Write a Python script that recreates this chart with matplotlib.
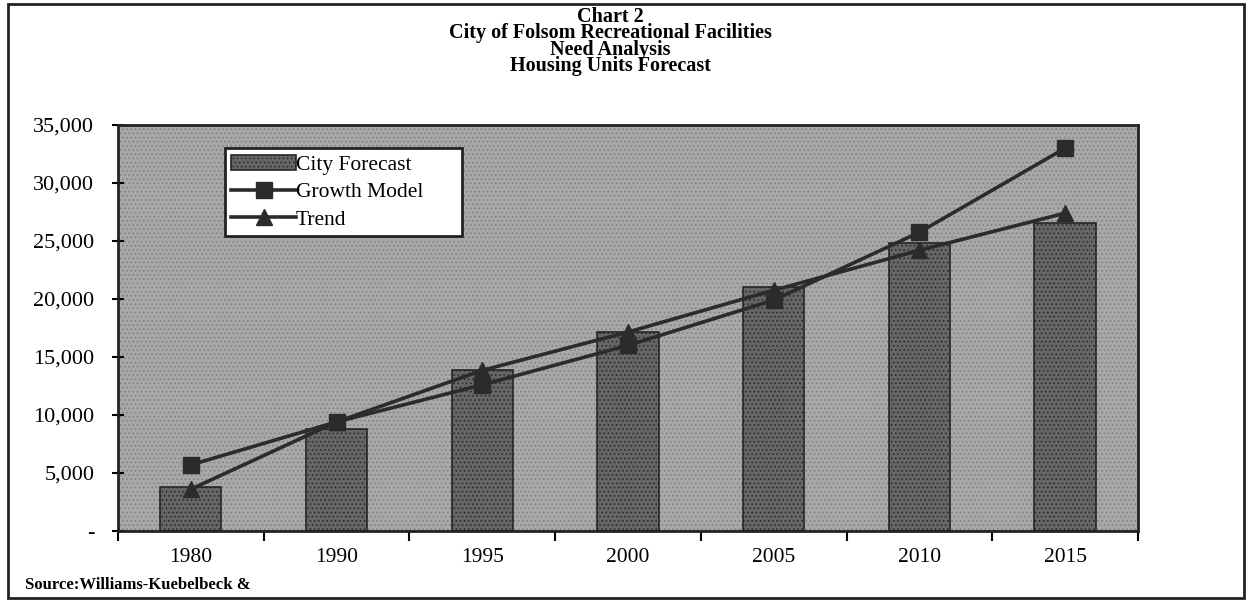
import matplotlib
matplotlib.use("Agg")
import matplotlib.pyplot as plt
from matplotlib.patches import Rectangle
from matplotlib.ticker import FuncFormatter
import numpy as np

years = ["1980", "1990", "1995", "2000", "2005", "2010", "2015"]
city_forecast = [3800, 8800, 13900, 17150, 21000, 24800, 26550]
growth_model = [5700, 9400, 12600, 16000, 19900, 25750, 33000]
trend_model = [3600, 9400, 13850, 17150, 20750, 24200, 27400]

plt.rcParams["font.family"] = ["Liberation Serif", "DejaVu Serif"]
plt.rcParams["hatch.linewidth"] = 0.6

fig = plt.figure(figsize=(12.52, 6), dpi=100)
ax = fig.add_axes([0.0942, 0.115, 0.8147, 0.6767])

# stippled plot area
ax.set_facecolor("#a8a8a8")
ax.add_patch(Rectangle((0, 0), 1, 1, transform=ax.transAxes, facecolor="none",
                       edgecolor="#7e7e7e", hatch="....", lw=0, zorder=0))

x = np.arange(len(years))
ax.bar(x, city_forecast, width=0.42, color="#666666", edgecolor="#262626",
       hatch="....", lw=1.2, zorder=2, label="City Forecast")

ax.plot(x, growth_model, color="#2b2b2b", lw=2.6, marker="s", ms=11,
        zorder=4, label="Growth Model")
ax.plot(x, trend_model, color="#2b2b2b", lw=2.6, marker="^", ms=11,
        zorder=4, label="Trend")

ax.set_xlim(-0.5, len(years) - 0.5)
ax.set_ylim(0, 35000)
ax.set_yticks(range(0, 35001, 5000))
ax.yaxis.set_major_formatter(FuncFormatter(lambda v, p: "-" if v == 0 else f"{int(v):,}"))
ax.tick_params(axis="y", direction="inout", length=8, width=1.5, labelsize=16, pad=13)

# category labels centred, ticks between categories
ax.set_xticks(x)
ax.set_xticklabels(years, fontsize=15.5)
ax.set_xticks(np.arange(-0.5, len(years), 1), minor=True)
ax.tick_params(axis="x", which="major", length=0, pad=12)
ax.tick_params(axis="x", which="minor", direction="out", length=7, width=1.5)

for s in ax.spines.values():
    s.set_linewidth(2)
    s.set_color("#222222")

handles, labels = ax.get_legend_handles_labels()
order = [2, 0, 1]
leg = ax.legend([handles[i] for i in order], [labels[i] for i in order],
                loc="upper left", bbox_to_anchor=(0.105, 0.943, 0.232, 0.0),
                mode="expand", fontsize=15.5, frameon=True, fancybox=False,
                framealpha=1, edgecolor="#222222", handlelength=3.0,
                handletextpad=0.0, labelspacing=0.35, borderpad=0.3,
                borderaxespad=0)
leg.get_frame().set_linewidth(2)

# four-line heading, tightly stacked
titles = ["Chart 2", "City of Folsom Recreational Facilities",
          "Need Analysis", "Housing Units Forecast"]
fig.text(0.4875, 0.931, "\n".join(titles), ha="center", va="center",
         fontsize=14.5, fontweight="bold", linespacing=0.76)

fig.text(0.02, 0.025, "Source:Williams-Kuebelbeck &", fontsize=12,
         fontweight="bold", va="center")

# outer frame
fig.add_artist(Rectangle((0.006, 0.003), 0.988, 0.99, transform=fig.transFigure,
                         fill=False, edgecolor="#222222", lw=2))

fig.savefig("out.png", dpi=100)
